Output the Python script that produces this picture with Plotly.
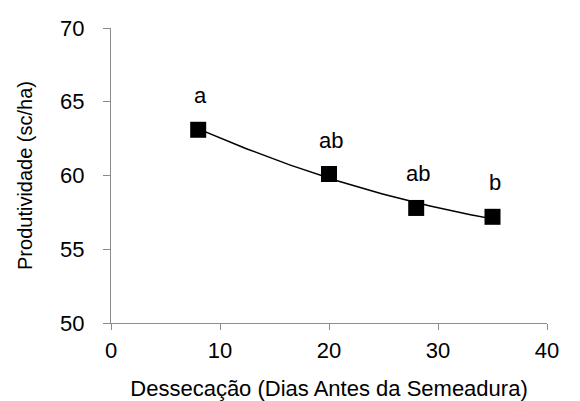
import numpy as np
import plotly.graph_objects as go

dias = [8, 20, 28, 35]
produtividade = [63.1, 60.1, 57.8, 57.2]
letras = ["a", "ab", "ab", "b"]
x_ticks = [0, 10, 20, 30, 40]
y_ticks = [50, 55, 60, 65, 70]

# quadratic trendline fitted to the data
coef = np.polyfit(dias, produtividade, 2)
xs = np.linspace(min(dias), max(dias), 100)
ys = np.polyval(coef, xs)

fig = go.Figure()
fig.add_trace(go.Scatter(x=xs, y=ys, mode="lines",
                         line=dict(color="black", width=1.5), hoverinfo="skip"))
fig.add_trace(go.Scatter(x=dias, y=produtividade, mode="markers",
                         marker=dict(symbol="square", size=16, color="black",
                                     line=dict(width=0))))

fam = "Liberation Sans, Arial, sans-serif"
for xv, yv, t in zip(dias, produtividade, letras):
    fig.add_annotation(x=xv, y=yv, text=t, showarrow=False, yshift=34, xshift=2,
                       font=dict(family=fam, size=22, color="black"))

tick_font = dict(family=fam, size=22, color="black")
fig.update_layout(
    width=580, height=401,
    margin=dict(l=111, r=33, t=28, b=78),
    paper_bgcolor="white", plot_bgcolor="white",
    showlegend=False,
    font=dict(family=fam, size=20, color="black"),
)
fig.update_xaxes(range=[0, 40], tickvals=x_ticks, showgrid=False, zeroline=False,
                 showline=True, linecolor="#8c8c8c", linewidth=1,
                 ticks="outside", ticklen=6, tickcolor="#8c8c8c",
                 tickfont=tick_font, ticklabelstandoff=2, automargin=False,
                 title=dict(text="Dessecação (Dias Antes da Semeadura)",
                            font=dict(family=fam, size=22, color="black"), standoff=18))
fig.update_yaxes(range=[50, 70], tickvals=y_ticks, showgrid=False, zeroline=False,
                 showline=True, linecolor="#8c8c8c", linewidth=1,
                 ticks="outside", ticklen=7, tickcolor="#8c8c8c",
                 tickfont=tick_font, ticklabelstandoff=14, automargin=False,
                 title=dict(text="Produtividade (sc/ha)",
                            font=dict(family=fam, size=20, color="black"), standoff=22))

fig.write_html("out.html")
